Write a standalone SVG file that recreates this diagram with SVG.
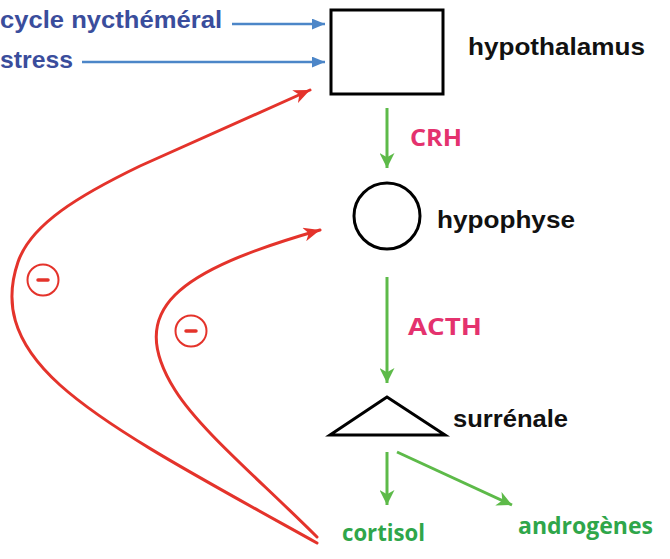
<svg xmlns="http://www.w3.org/2000/svg" width="670" height="559" viewBox="0 0 670 559">
<style>
.blk{font-family:"Liberation Sans",Arial,sans-serif;font-weight:bold;font-size:24px;fill:#111}
.blu{font-family:"Liberation Sans",Arial,sans-serif;font-weight:bold;font-size:24px;fill:#3a4d9c}
.pink{font-family:"Open Sans","DejaVu Sans",sans-serif;font-weight:700;font-size:24px;fill:#e4326e}
.grn{font-family:"Open Sans","DejaVu Sans",sans-serif;font-weight:700;font-size:24px;fill:#2fa64a}
.shape{fill:#fff;stroke:#000;stroke-width:3}
.bl{stroke:#4c86c8;stroke-width:2.5;fill:none}
.gr{stroke:#5dba49;stroke-width:3;fill:none}
.rd{stroke:#e4332b;stroke-width:3;fill:none;stroke-linecap:round}
.minus{fill:none;stroke:#e4332b;stroke-width:2}
</style>
<defs>
<marker id="ab" viewBox="0 0 12 10" refX="12" refY="5" markerWidth="13" markerHeight="11" markerUnits="userSpaceOnUse" orient="auto"><path d="M0,0 L12,5 L0,10 Z" fill="#4c86c8"/></marker>
<marker id="ag" viewBox="0 0 14 14" refX="14" refY="7" markerWidth="17" markerHeight="15" markerUnits="userSpaceOnUse" orient="auto"><path d="M0,0 L14,7 L0,14 L4,7 Z" fill="#5dba49"/></marker>
<marker id="ar" viewBox="0 0 14 12" refX="14" refY="6" markerWidth="18" markerHeight="14" markerUnits="userSpaceOnUse" orient="auto"><path d="M0,0 L14,6 L0,12 L4,6 Z" fill="#e4332b"/></marker>
</defs>
<g id="inputs">
<text class="blu" x="0" y="28" textLength="222" lengthAdjust="spacingAndGlyphs">cycle nycthéméral</text>
<text class="blu" x="0" y="68" textLength="73" lengthAdjust="spacingAndGlyphs">stress</text>
</g>
<g id="hypothalamus">
<rect class="shape" x="331" y="10" width="112" height="84"/>
<text class="blk" x="468" y="55" textLength="177" lengthAdjust="spacingAndGlyphs">hypothalamus</text>
</g>
<g id="hypophyse">
<circle class="shape" cx="387" cy="216" r="33"/>
<text class="blk" x="437" y="228" textLength="138" lengthAdjust="spacingAndGlyphs">hypophyse</text>
</g>
<g id="surrenale">
<path class="shape" d="M387,397 L330,435 L445,435 Z" stroke-linejoin="miter"/>
<text class="blk" x="453" y="427" textLength="115" lengthAdjust="spacingAndGlyphs">surrénale</text>
</g>
<g id="cortisol">
<text class="grn" x="342" y="541" textLength="83" lengthAdjust="spacingAndGlyphs">cortisol</text>
</g>
<g id="androgenes">
<text class="grn" x="518" y="534" textLength="135" lengthAdjust="spacingAndGlyphs">androgènes</text>
</g>
<g id="connectors">
<line class="bl" x1="232" y1="24" x2="325" y2="24" marker-end="url(#ab)"/>
<line class="bl" x1="82" y1="62" x2="325" y2="62" marker-end="url(#ab)"/>
<line class="gr" x1="387" y1="108" x2="387" y2="168" marker-end="url(#ag)"/>
<text class="pink" x="410" y="146" textLength="52" lengthAdjust="spacingAndGlyphs">CRH</text>
<line class="gr" x1="387" y1="277" x2="387" y2="383" marker-end="url(#ag)"/>
<text class="pink" x="408" y="335" textLength="74" lengthAdjust="spacingAndGlyphs">ACTH</text>
<line class="gr" x1="387" y1="452" x2="387" y2="505" marker-end="url(#ag)"/>
<line class="gr" x1="397" y1="452" x2="512" y2="505" marker-end="url(#ag)"/>
<path class="rd" d="M317,543 C200,478 110,430 60,385 S5,300 18,262 S80,195 140,166 L310,90" marker-end="url(#ar)"/>
<path class="rd" d="M317,537 C260,480 200,430 175,390 S150,320 175,295 S250,250 320,230" marker-end="url(#ar)"/>
<circle class="minus" cx="43" cy="280" r="15.5"/>
<line x1="38" y1="280" x2="48" y2="280" stroke="#e4332b" stroke-width="3.5" stroke-linecap="round"/>
<circle class="minus" cx="191" cy="331" r="15.5"/>
<line x1="186" y1="331" x2="196" y2="331" stroke="#e4332b" stroke-width="3.5" stroke-linecap="round"/>
</g>
</svg>
